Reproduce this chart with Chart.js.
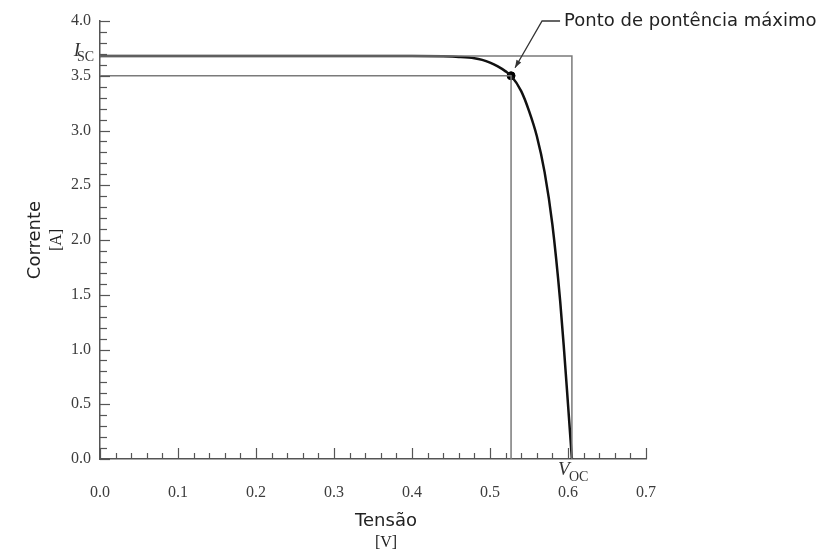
<!DOCTYPE html>
<html>
<head>
<meta charset="utf-8">
<script src="https://cdn.jsdelivr.net/npm/chart.js@4"></script>
<style>
    body { margin: 0; background: #fff; }
    #wrap { width: 827px; height: 552px; }
</style>
</head>
<body>
<div id="wrap"><canvas id="ivChart" width="827" height="552"></canvas></div>
<script>
// I-V curve of a solar cell
const voltage = [0, 0.1, 0.2, 0.3, 0.4, 0.44, 0.46, 0.48, 0.49, 0.50, 0.51, 0.52, 0.527, 0.54, 0.55, 0.56, 0.57, 0.58, 0.59, 0.595, 0.6, 0.605];
const current = [3.68, 3.68, 3.68, 3.68, 3.68, 3.677, 3.672, 3.66, 3.645, 3.62, 3.585, 3.54, 3.50, 3.36, 3.18, 2.95, 2.62, 2.14, 1.44, 0.99, 0.50, 0];

const isc = 3.68;   // short-circuit current
const voc = 0.605;  // open-circuit voltage
const vmp = 0.527;  // max power point voltage
const imp = 3.5;    // max power point current

const xTicks = [0, 0.1, 0.2, 0.3, 0.4, 0.5, 0.6, 0.7];
const yTicks = [0, 0.5, 1.0, 1.5, 2.0, 2.5, 3.0, 3.5, 4.0];

const mppLabel = 'Ponto de pontência máximo';
const xTitle = 'Tensão';
const xUnit = '[V]';
const yTitle = 'Corrente';
const yUnit = '[A]';

const serif = "'Liberation Serif', 'DejaVu Serif', serif";
const sans = "'DejaVu Sans', sans-serif";

// inward ticks with minor marks, plus the extra labels
const decorations = {
    id: 'decorations',
    afterDraw(chart) {
        const { ctx, chartArea, scales: { x, y } } = chart;
        ctx.save();
        ctx.strokeStyle = '#555';
        ctx.lineWidth = 1.2;

        // x ticks every 0.02, major every 0.1
        for (let i = 0; i <= 35; i++) {
            const px = Math.round(x.getPixelForValue(i * 0.02)) + 0.5;
            const len = i % 5 === 0 ? 11 : 6;
            ctx.beginPath();
            ctx.moveTo(px, chartArea.bottom);
            ctx.lineTo(px, chartArea.bottom - len);
            ctx.stroke();
        }
        // y ticks every 0.1, major every 0.5
        for (let i = 0; i <= 40; i++) {
            const py = Math.round(y.getPixelForValue(i * 0.1)) + 0.5;
            const len = i % 5 === 0 ? 10 : 7;
            ctx.beginPath();
            ctx.moveTo(chartArea.left, py);
            ctx.lineTo(chartArea.left + len, py);
            ctx.stroke();
        }

        ctx.fillStyle = '#333';
        ctx.textBaseline = 'middle';

        // I_SC label on the y axis
        const iy = y.getPixelForValue(isc);
        ctx.textAlign = 'right';
        ctx.font = 'italic 19px ' + serif;
        ctx.fillText('I', 80, iy - 5);
        ctx.font = '14px ' + serif;
        ctx.fillText('SC', 94, iy + 1);

        // V_OC label under the x axis
        const vx = x.getPixelForValue(voc);
        ctx.textAlign = 'left';
        ctx.font = 'italic 19px ' + serif;
        ctx.fillText('V', vx - 14, chartArea.bottom + 11);
        ctx.font = '14px ' + serif;
        ctx.fillText('OC', vx - 3, chartArea.bottom + 18);

        // axis titles
        ctx.textAlign = 'center';
        ctx.fillStyle = '#222';
        ctx.font = '18px ' + sans;
        ctx.fillText(xTitle, 386, 521);
        ctx.font = '16px ' + serif;
        ctx.fillText(xUnit, 386, 543);

        ctx.save();
        ctx.translate(35, 240);
        ctx.rotate(-Math.PI / 2);
        ctx.font = '18px ' + sans;
        ctx.fillText(yTitle, 0, 0);
        ctx.restore();
        ctx.save();
        ctx.translate(57, 240);
        ctx.rotate(-Math.PI / 2);
        ctx.font = '16px ' + serif;
        ctx.fillText(yUnit, 0, 0);
        ctx.restore();

        // leader to the max power point
        const tipX = x.getPixelForValue(vmp) + 4;
        const tipY = y.getPixelForValue(imp) - 8;
        const elbowX = tipX + 27;
        const elbowY = 21;
        ctx.strokeStyle = '#333';
        ctx.lineWidth = 1.3;
        ctx.beginPath();
        ctx.moveTo(elbowX + 18, elbowY);
        ctx.lineTo(elbowX, elbowY);
        ctx.lineTo(tipX, tipY);
        ctx.stroke();
        const ang = Math.atan2(tipY - elbowY, tipX - elbowX);
        ctx.fillStyle = '#333';
        ctx.beginPath();
        ctx.moveTo(tipX, tipY);
        ctx.lineTo(tipX - 8 * Math.cos(ang - 0.35), tipY - 8 * Math.sin(ang - 0.35));
        ctx.lineTo(tipX - 8 * Math.cos(ang + 0.35), tipY - 8 * Math.sin(ang + 0.35));
        ctx.closePath();
        ctx.fill();

        ctx.textAlign = 'left';
        ctx.fillStyle = '#222';
        ctx.font = '18px ' + sans;
        ctx.fillText(mppLabel, elbowX + 22, elbowY);
        ctx.restore();
    }
};

const curve = voltage.map((v, i) => ({ x: v, y: current[i] }));

new Chart(document.getElementById('ivChart'), {
    type: 'line',
    data: {
        datasets: [
            {
                label: 'Isc / Voc',
                data: [{ x: 0, y: isc }, { x: voc, y: isc }, { x: voc, y: 0 }],
                borderColor: '#7a7a7a',
                borderWidth: 1.5,
                pointRadius: 0,
                tension: 0
            },
            {
                label: 'MPP',
                data: [{ x: 0, y: imp }, { x: vmp, y: imp }, { x: vmp, y: 0 }],
                borderColor: '#7a7a7a',
                borderWidth: 1.5,
                pointRadius: 0,
                tension: 0
            },
            {
                label: 'I-V',
                data: curve,
                borderColor: '#111',
                borderWidth: 2.5,
                pointRadius: 0,
                cubicInterpolationMode: 'monotone'
            },
            {
                label: 'Pmax',
                data: [{ x: vmp, y: imp }],
                showLine: false,
                pointRadius: 4,
                pointBackgroundColor: '#000',
                pointBorderColor: '#000'
            }
        ]
    },
    options: {
        responsive: false,
        animation: false,
        layout: { padding: { left: 0, top: 21, right: 181, bottom: 0 } },
        plugins: { legend: { display: false }, tooltip: { enabled: false } },
        scales: {
            x: {
                type: 'linear',
                min: 0,
                max: 0.7,
                afterBuildTicks: s => { s.ticks = xTicks.map(v => ({ value: v })); },
                afterFit: s => { s.height = 93; },
                grid: { display: false, drawTicks: false },
                border: { display: true, color: '#555', width: 1.5 },
                ticks: {
                    padding: 24,
                    color: '#3c3c3c',
                    font: { family: serif, size: 16 },
                    callback: v => v.toFixed(1)
                }
            },
            y: {
                min: 0,
                max: 4,
                afterBuildTicks: s => { s.ticks = yTicks.map(v => ({ value: v })); },
                afterFit: s => { s.width = 100; },
                grid: { display: false, drawTicks: false },
                border: { display: true, color: '#555', width: 1.5 },
                ticks: {
                    padding: 9,
                    color: '#3c3c3c',
                    font: { family: serif, size: 16 },
                    callback: v => v.toFixed(1)
                }
            }
        }
    },
    plugins: [decorations]
});
</script>
</body>
</html>
